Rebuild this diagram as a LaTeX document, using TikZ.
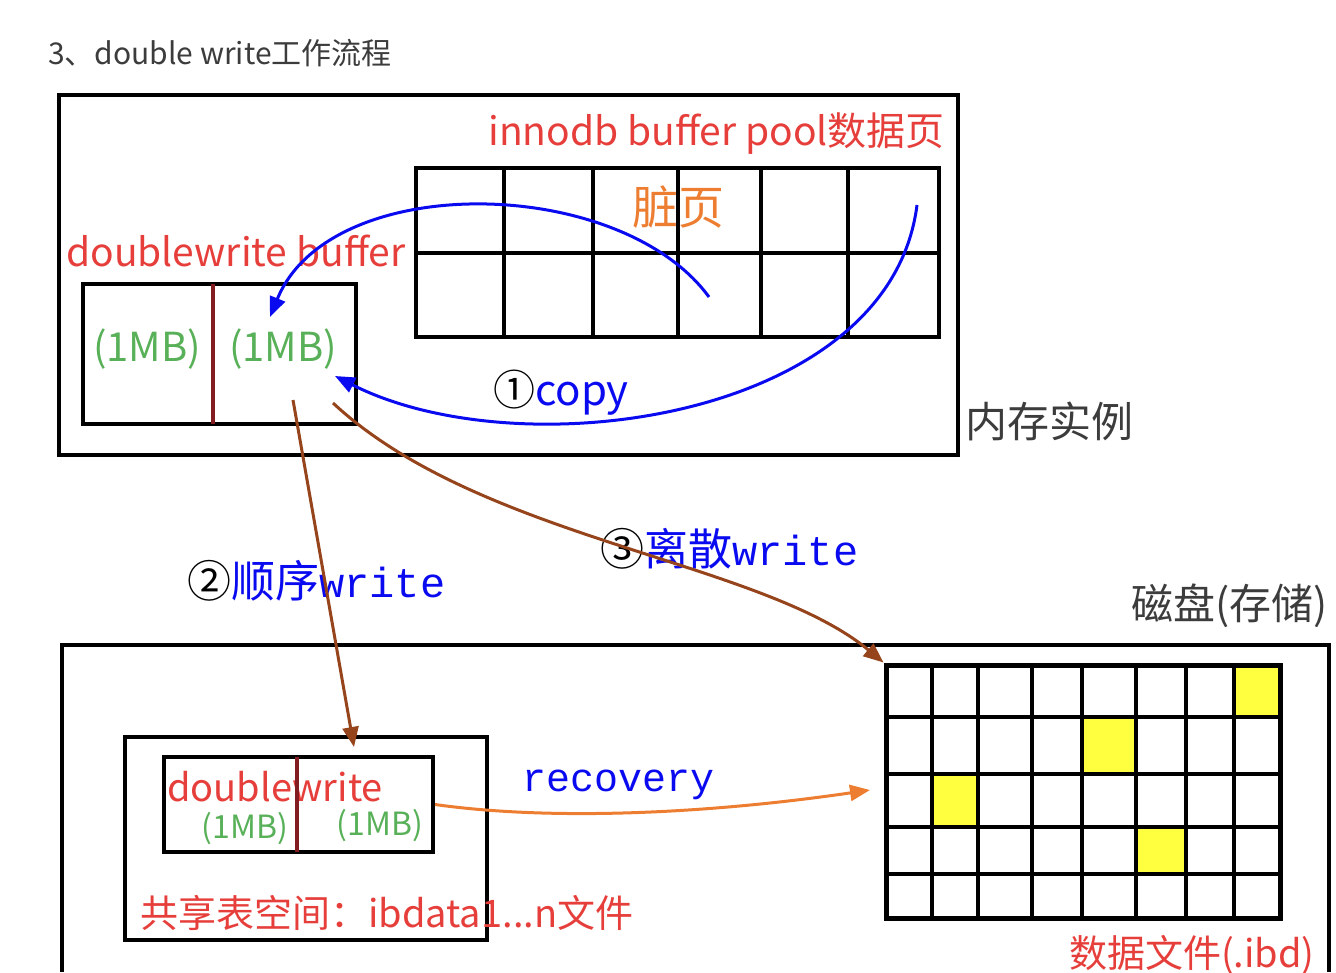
\documentclass[tikz,border=0pt]{standalone}
\usepackage{fontspec}
\setmainfont{Noto Sans CJK SC}
\newfontfamily\monofnt{Liberation Mono}
\usepackage{tikz}
\usetikzlibrary{positioning, arrows.meta}
\definecolor{dwred}{RGB}{230,62,58}
\definecolor{dworange}{RGB}{237,125,49}
\definecolor{dwgreen}{RGB}{88,176,88}
\definecolor{dwblue}{RGB}{10,10,240}
\definecolor{dwbrown}{RGB}{150,68,28}
\definecolor{dwdiv}{RGB}{130,28,32}
\definecolor{dwyellow}{RGB}{255,255,64}
\definecolor{dwgray}{RGB}{60,60,60}
\newcommand{\fsz}[1]{\fontsize{#1}{#1}\selectfont}
\tikzset{
    box/.style={draw=black, line width=4pt, inner sep=0pt},
    gridline/.style={line width=4pt},
    divider/.style={line width=4pt, dwdiv},
    lbl/.style={inner sep=0pt, anchor=west},
    flow/.style={line width=3pt, -{Triangle[length=20pt,width=16pt]}}
}

\begin{document}
\begin{tikzpicture}[x=1pt, y=-1pt]
        %\draw (0,0) grid[step=100] (1336,972);
        \useasboundingbox (0,0) rectangle (1336,972);
        \node[lbl, text=dwgray, font=\fsz{30}] (title) at (48,53) {3、double write工作流程};

        % memory instance
        \node[box, minimum width=899, minimum height=360] (mem) at (508.5,275) {};
        \node[box, minimum width=523, minimum height=169] (pool) at (677.5,252.5) {};
        \draw[gridline] (pool.west) -- (pool.east);
    \foreach \x in {503.5,593,678,761,848}
    {%
        \draw[gridline] (\x,168) -- (\x,337);
    }
        \node[lbl, anchor=east, text=dwred, font=\fsz{39}] (pooltxt) at (945,134) {innodb buffer pool数据页};
        \node[inner sep=0pt, text=dworange, font=\fsz{46}] (dirtytxt) at (678,207) {脏页};
        \node[lbl, text=dwred, font=\fsz{39}] (dwbtxt) at (66,251) {doublewrite buffer};
        \node[box, minimum width=273, minimum height=140] (dwbuf) at (219.5,354) {};
        \draw[divider] (213,284) -- (213,424);
        \node[inner sep=0pt, text=dwgreen, font=\fsz{40}] (mba) at (147,349) {(1MB)};
        \node[inner sep=0pt, text=dwgreen, font=\fsz{40}] (mbb) at (283,349) {(1MB)};
        \node[lbl, text=dwblue, font=\fsz{42}] (copytxt) at (493,393) {\textcolor{black}{①}copy};
        \node[lbl, text=dwgray, font=\fsz{42}] (memtxt) at (965,421) {内存实例};

        % disk
        \node[lbl, anchor=east, text=dwgray, font=\fsz{42}] (disktxt) at (1328,606) {磁盘(存储)};
        \draw[line width=4pt] (62,972) -- (62,645) -- (1329,645) -- (1329,972);
        \def\colx{{886,932,978,1032,1082,1136,1186,1234,1280}}
        \def\rowy{{665,717,774,827,874,918}}
    \foreach \r/\c in {0/7,1/4,2/1,3/5}
    {%
        \pgfmathsetmacro{\xa}{\colx[\c]}
        \pgfmathsetmacro{\xb}{\colx[\c+1]}
        \pgfmathsetmacro{\ya}{\rowy[\r]}
        \pgfmathsetmacro{\yb}{\rowy[\r+1]}
        \fill[dwyellow] (\xa,\ya) rectangle (\xb,\yb);
    }
        \node[box, line width=5pt, minimum width=394, minimum height=253] (disk) at (1083,791.5) {};
    \foreach \x in {932,978,1032,1082,1136,1186,1234}
        \draw[gridline] (\x,665) -- (\x,918);
    \foreach \y in {717,774,827,874}
        \draw[gridline] (886,\y) -- (1280,\y);
        \node[lbl, anchor=east, text=dwred, font=\fsz{38}] (ibdtxt) at (1315,955) {数据文件(.ibd)};

        % shared tablespace
        \node[box, minimum width=362, minimum height=203] (shared) at (306,838.5) {};
        \node[lbl, text=dwred, font=\fsz{38}] (dwftxt) at (167,787) {doublewrite};
        \node[box, minimum width=269, minimum height=95] (dwfile) at (298.5,804.5) {};
        \draw[divider] (297,757) -- (297,852);
        \node[inner sep=0pt, text=dwgreen, font=\fsz{32}] (mbc) at (245,829) {(1MB)};
        \node[inner sep=0pt, text=dwgreen, font=\fsz{32}] (mbd) at (380,826) {(1MB)};
        \node[lbl, text=dwred, font=\fsz{38}] (sharetxt) at (140,913) {共享表空间：ibdata1...n文件};

        \node[lbl, text=dwblue, font=\fsz{44}] (seqtxt) at (187,581) {\textcolor{black}{②}顺序{\monofnt\fsz{42}write}};
        \node[lbl, text=dwblue, font=\fsz{44}] (scattxt) at (600,549) {\textcolor{black}{③}离散{\monofnt\fsz{42}write}};
        \node[lbl, text=dwblue, font=\monofnt\fsz{40}] (rectxt) at (522,785) {recovery};

        % arrows
        \coordinate (dirty) at (709,297);
        \coordinate (dwin) at (270,317);
        \coordinate (poolend) at (917,205);
        \coordinate (dwin2) at (335,376);
        \coordinate (seqsrc) at (293,400);
        \coordinate (seqdst) at (354,747);
        \coordinate (scsrc) at (333,403);
        \coordinate (recdst) at (870,790);
        \draw[flow, dwblue] (dirty) .. controls (620,175) and (330,170) .. (dwin);
        \draw[flow, dwblue] (poolend) .. controls (890,420) and (520,470) .. (dwin2);
        \draw[flow, dwbrown] (seqsrc) -- (seqdst);
        \draw[flow, dwbrown] (scsrc) .. controls (480,540) and (760,560) .. (disk.north west);
        \draw[flow, dworange] (dwfile.east) .. controls (560,822) and (720,812) .. (recdst);
\end{tikzpicture}
\end{document}
